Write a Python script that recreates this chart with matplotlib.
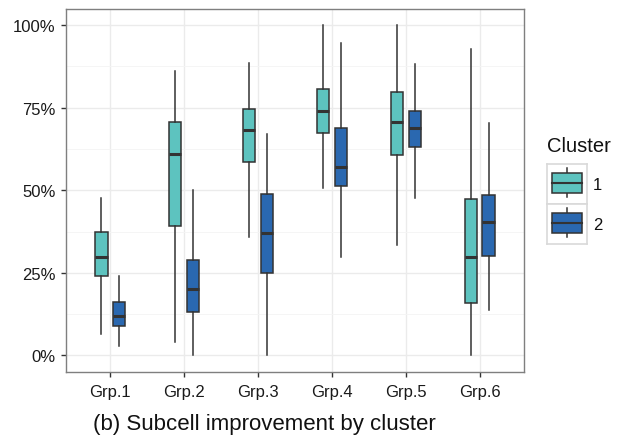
import matplotlib
matplotlib.use("Agg")
import matplotlib.pyplot as plt
from matplotlib.patches import Rectangle
from matplotlib.lines import Line2D
from matplotlib.ticker import FixedLocator, FuncFormatter

plt.rcParams['font.family'] = ['Liberation Sans', 'DejaVu Sans']

groups = ["Grp.1", "Grp.2", "Grp.3", "Grp.4", "Grp.5", "Grp.6"]
clusters = ["1", "2"]
colors = {"1": "#5DC3BF", "2": "#2A68B0"}

# five-number summaries (fractions): low whisker, Q1, median, Q3, high whisker
c1_low = [0.065, 0.042, 0.358, 0.506, 0.333, 0.000]
c1_q1 = [0.240, 0.393, 0.586, 0.672, 0.608, 0.158]
c1_med = [0.299, 0.611, 0.681, 0.739, 0.707, 0.297]
c1_q3 = [0.375, 0.707, 0.747, 0.806, 0.797, 0.473]
c1_high = [0.476, 0.860, 0.886, 0.999, 0.999, 0.927]

c2_low = [0.030, 0.000, 0.000, 0.299, 0.476, 0.138]
c2_q1 = [0.090, 0.133, 0.250, 0.513, 0.631, 0.302]
c2_med = [0.119, 0.202, 0.371, 0.570, 0.688, 0.405]
c2_q3 = [0.163, 0.290, 0.488, 0.688, 0.739, 0.485]
c2_high = [0.242, 0.502, 0.669, 0.945, 0.883, 0.705]

caption = "(b) Subcell improvement by cluster"

fig = plt.figure(figsize=(6.28, 4.39), dpi=100)
ax = fig.add_axes([66/628, 66/439, 458/628, 363.5/439])

def stats(low, q1, med, q3, high):
    return [dict(whislo=a, q1=b, med=c, q3=d, whishi=e, fliers=[])
            for a, b, c, d, e in zip(low, q1, med, q3, high)]

xs = list(range(1, len(groups) + 1))
offset = 0.12
width = 0.165
edge = "#333333"
for cl, st, off in [("1", stats(c1_low, c1_q1, c1_med, c1_q3, c1_high), -offset),
                    ("2", stats(c2_low, c2_q1, c2_med, c2_q3, c2_high), offset)]:
    ax.bxp(st, positions=[x + off for x in xs], widths=width, showfliers=False,
           showcaps=False, patch_artist=True,
           boxprops=dict(facecolor=colors[cl], edgecolor=edge, linewidth=1.1),
           whiskerprops=dict(color=edge, linewidth=1.1),
           medianprops=dict(color=edge, linewidth=2.2, solid_capstyle='butt'),
           zorder=3)

ax.set_xlim(0.4, 6.6)
ax.set_ylim(-0.05, 1.05)
ax.xaxis.set_major_locator(FixedLocator(xs))
ax.set_xticklabels(groups)
ax.yaxis.set_major_locator(FixedLocator([0, 0.25, 0.5, 0.75, 1.0]))
ax.yaxis.set_minor_locator(FixedLocator([0.125, 0.375, 0.625, 0.875]))
ax.yaxis.set_major_formatter(FuncFormatter(lambda v, p: f"{int(round(v*100))}%"))
ax.grid(True, which='major', color="#EBEBEB", linewidth=1.0, zorder=0)
ax.grid(True, which='minor', axis='y', color="#F4F4F4", linewidth=0.6, zorder=0)
ax.set_axisbelow(True)
ax.tick_params(axis='both', which='major', length=3.5, width=1.0, color="#333333",
               labelsize=12, labelcolor="#1a1a1a", pad=4)
ax.tick_params(axis='x', which='major', pad=5)
ax.tick_params(axis='y', which='minor', length=0)
for s in ax.spines.values():
    s.set_color("#7f7f7f")
    s.set_linewidth(1.0)

# legend
fig.text(547/628, 1 - 147/439, "Cluster", fontsize=14.5, ha='left', va='center', color="#111111")
for i, cl in enumerate(clusters):
    top = 165 + 40 * i
    kax = fig.add_axes([547/628, 1 - (top + 40)/439, 40/628, 40/439])
    kax.set_xlim(0, 40)
    kax.set_ylim(40, 0)
    kax.set_xticks([]); kax.set_yticks([])
    for s in kax.spines.values():
        s.set_color("#D9D9D9")
        s.set_linewidth(1.2)
    kax.add_line(Line2D([20, 20], [4, 33], color=edge, linewidth=1.1))
    kax.add_patch(Rectangle((5, 9), 30, 20, facecolor=colors[cl], edgecolor=edge, linewidth=1.1, zorder=3))
    kax.add_line(Line2D([5, 35], [19, 19], color=edge, linewidth=1.5, zorder=4))
    fig.text(593/628, 1 - (top + 20)/439, cl, fontsize=12, ha='left', va='center', color="#111111")

fig.text(264/628, 1 - 425/439, caption, fontsize=16, ha='center', va='center', color="#111111")

fig.savefig("out.png", dpi=100)
